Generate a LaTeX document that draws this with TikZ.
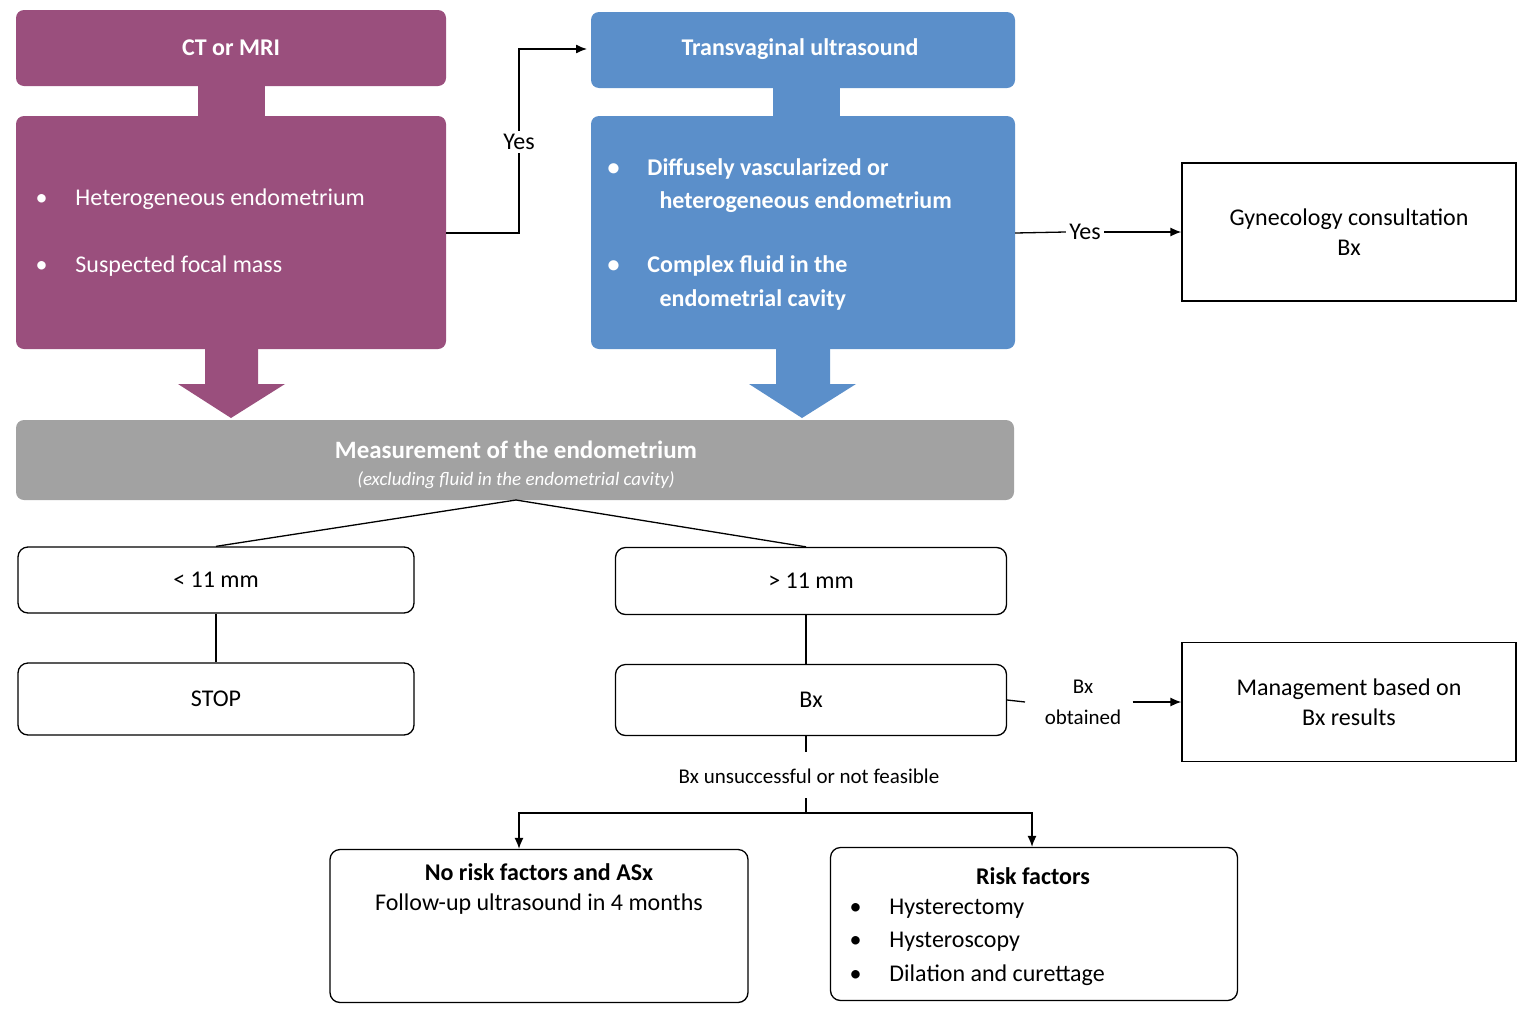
\documentclass[tikz,border=0pt]{standalone}
\usepackage{fontspec}
\setmainfont{Carlito}
\usetikzlibrary{arrows.meta}
\definecolor{purp}{HTML}{9A4F7D}
\definecolor{blu}{HTML}{5B8FCA}
\definecolor{gry}{HTML}{A2A2A2}
\begin{document}
\begin{tikzpicture}[x=1pt,y=-1pt,
 txt/.style={font=\fontsize{24}{30}\selectfont},
 wbox/.style={draw,line width=1.3pt,rounded corners=10pt},
 sbox/.style={draw,line width=1.3pt},
 ln/.style={line width=1.3pt},
 arr/.style={line width=1.3pt,-{Latex[length=11pt,width=9pt]}}]
\useasboundingbox (0,0) rectangle (1537,1023);
% purple
\fill[purp,rounded corners=8pt] (16,10) rectangle (446,86);
\fill[purp] (198,80) rectangle (265,122);
\fill[purp,rounded corners=8pt] (16,116) rectangle (446,349);
\fill[purp] (205,345) -- (258,345) -- (258,384) -- (285,384) -- (231,418) -- (178,384) -- (205,384) -- cycle;
\node[txt,text=white,font=\bfseries\fontsize{24}{30}\selectfont] (ct) at (231,48) {CT or MRI};
\node[txt,text=white,anchor=west] at (32,199) {•\hspace{28pt}Heterogeneous endometrium};
\node[txt,text=white,anchor=west] at (32,266) {•\hspace{28pt}Suspected focal mass};
\coordinate (pr) at (446,233);
% blue
\fill[blu,rounded corners=8pt] (591,12) rectangle (1015,88);
\fill[blu] (773,82) rectangle (840,122);
\fill[blu,rounded corners=8pt] (591,116) rectangle (1015,349);
\fill[blu] (776,345) -- (830,345) -- (830,384) -- (856,384) -- (802,418) -- (749,384) -- (776,384) -- cycle;
\node[txt,text=white,font=\bfseries\fontsize{24}{30}\selectfont] (tv) at (800,49) {Transvaginal ultrasound};
\node[txt,text=white,font=\bfseries\fontsize{24}{30}\selectfont,anchor=west] at (604,169) {•\hspace{28pt}Diffusely vascularized or};
\node[txt,text=white,font=\bfseries\fontsize{24}{30}\selectfont,anchor=west] at (656,202) {heterogeneous endometrium};
\node[txt,text=white,font=\bfseries\fontsize{24}{30}\selectfont,anchor=west] at (604,266) {•\hspace{28pt}Complex fluid in the};
\node[txt,text=white,font=\bfseries\fontsize{24}{30}\selectfont,anchor=west] at (656,300) {endometrial cavity};
% yes from purple
\node[txt] (y1) at (519,142) {Yes};
\draw[ln] (pr) -| (y1.south);
\draw[arr] (y1.north) |- (tv.west -| 587,50);
% gyn
\node[sbox,txt,minimum width=334pt,minimum height=138pt,align=center] (gyn) at (1349,232) {Gynecology consultation\\Bx};
\node[txt] (y2) at (1085,232) {Yes};
\draw[ln] (1015,233) -- (y2.west);
\draw[arr] (y2.east) -- (gyn.west);
% gray bar
\fill[gry,rounded corners=8pt] (16,420) rectangle (1014,500);
\node[text=white,font=\bfseries\fontsize{25}{30}\selectfont] at (516,450) {Measurement of the endometrium};
\node[text=white,font=\itshape\fontsize{19}{24}\selectfont] at (516,480) {(excluding fluid in the endometrial cavity)};
\coordinate (mb) at (516,500);
% boxes
\node[wbox,txt,minimum width=396pt,minimum height=66pt] (lt) at (216,580) {< 11 mm};
\node[wbox,txt,minimum width=396pt,minimum height=72pt] (stop) at (216,699) {STOP};
\node[wbox,txt,minimum width=391pt,minimum height=67pt] (gt) at (811,581) {> 11 mm};
\node[wbox,txt,minimum width=391pt,minimum height=71pt] (bx) at (811,700) {Bx};
\draw[ln] (mb) -- (lt.north);
\draw[ln] (mb) -- (gt.north -| 806,547);
\draw[ln] (lt) -- (stop);
\draw[ln] (806,614) -- (806,665);
% management
\node[sbox,txt,minimum width=334pt,minimum height=119pt,align=center] (mg) at (1349,702) {Management based on\\Bx results};
\node[font=\fontsize{21}{31}\selectfont,align=center] (bo) at (1083,702) {Bx\\obtained};
\draw[ln] (bx.east) -- (1025,702);
\draw[arr] (bo.east) ++(8,0) -- (mg.west);
% bottom
\node[font=\fontsize{21}{26}\selectfont] (bu) at (809,776) {Bx unsuccessful or not feasible};
\draw[ln] (806,736) -- (806,752);
\node[wbox,minimum width=418pt,minimum height=153pt] (nr) at (539,926) {};
\node[txt,align=center,anchor=north] at (539,860) {\textbf{No risk factors and ASx}\\Follow-up ultrasound in 4 months};
\node[wbox,minimum width=407pt,minimum height=153pt] (rf) at (1034,924) {};
\node[txt,font=\bfseries\fontsize{24}{30}\selectfont] at (1033,876) {Risk factors};
\node[txt,anchor=west] at (846,909) {•\hspace{28pt}Hysterectomy};
\node[txt,anchor=west] at (846,942) {•\hspace{28pt}Hysteroscopy};
\node[txt,anchor=west] at (846,975) {•\hspace{28pt}Dilation and curettage};
\draw[ln] (806,798) -- (806,813);
\draw[arr] (806,813) -| (nr.north -| 519,850);
\draw[arr] (806,813) -| (rf.north -| 1032,848);
\end{tikzpicture}
\end{document}
